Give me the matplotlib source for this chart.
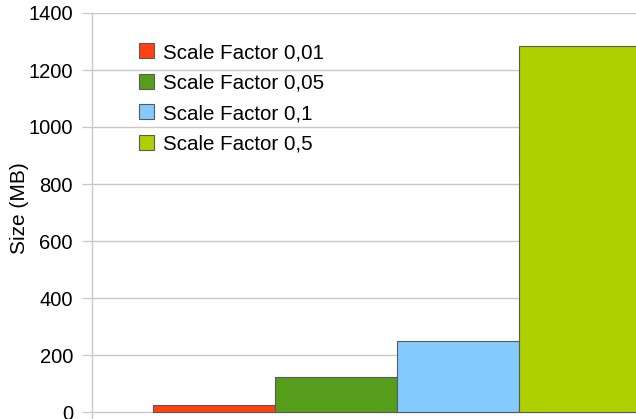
import matplotlib
matplotlib.use("Agg")
import matplotlib.pyplot as plt

# Database size per scale factor
labels = ["Scale Factor 0,01", "Scale Factor 0,05", "Scale Factor 0,1", "Scale Factor 0,5"]
sizes_mb = [24, 122, 250, 1285]
colors = ["#ff420e", "#579d1c", "#83caff", "#aecf00"]
yticks = [0, 200, 400, 600, 800, 1000, 1200, 1400]

W, H = 636, 419
DPI = 100
fig = plt.figure(figsize=(W / DPI, H / DPI), dpi=DPI)
plt.rcParams["font.family"] = ["Liberation Sans", "DejaVu Sans"]

# axes box in pixels: left spine at x=92, top at y=13, runs to bottom edge
left_px, top_px, right_px, bottom_px = 92, 13, 636, 419
ax = fig.add_axes([left_px / W, 1 - bottom_px / H,
                   (right_px - left_px) / W, (bottom_px - top_px) / H])

zero_px = 412
px_per_unit = (zero_px - top_px) / 1400
ymin = -(bottom_px - zero_px) / px_per_unit
ax.set_ylim(ymin, 1400)

positions = list(range(len(sizes_mb)))
bars = ax.bar(positions, sizes_mb, width=1.0, color=colors,
              edgecolor="#5a5a5a", linewidth=0.8, zorder=3)

# x range: bar width 122 px, first bar starts at x=153
bar_px = 122
x0 = -0.5 + (left_px - 153) / bar_px
x1 = -0.5 + (right_px - 153) / bar_px
ax.set_xlim(x0, x1)

grid_col = "#c8c8c8"
ax.set_yticks(yticks)
ax.yaxis.grid(True, color=grid_col, linewidth=1.0, zorder=0)
ax.set_axisbelow(True)
ax.tick_params(axis="y", direction="out", length=7.2, width=0.9,
               color=grid_col, pad=6.5, labelsize=14.5, labelcolor="#000000")
ax.set_xticks([])
for side in ("top", "right", "bottom"):
    ax.spines[side].set_visible(False)
ax.spines["left"].set_color(grid_col)
ax.spines["left"].set_linewidth(1.0)

ax.set_ylabel("Size (MB)", fontsize=15)
ax.yaxis.set_label_coords((29 - left_px) / (right_px - left_px),
                          (bottom_px - 208) / (bottom_px - top_px))

leg = ax.legend(bars, labels, loc="upper left",
                bbox_to_anchor=((142 - left_px) / (right_px - left_px) - 0.006,
                                (bottom_px - 43) / (bottom_px - top_px)),
                frameon=False, fontsize=14.8, handlelength=0.75,
                handleheight=0.75, handletextpad=0.45, labelspacing=0.56,
                borderpad=0, borderaxespad=0)

fig.savefig("out.png", dpi=DPI)
